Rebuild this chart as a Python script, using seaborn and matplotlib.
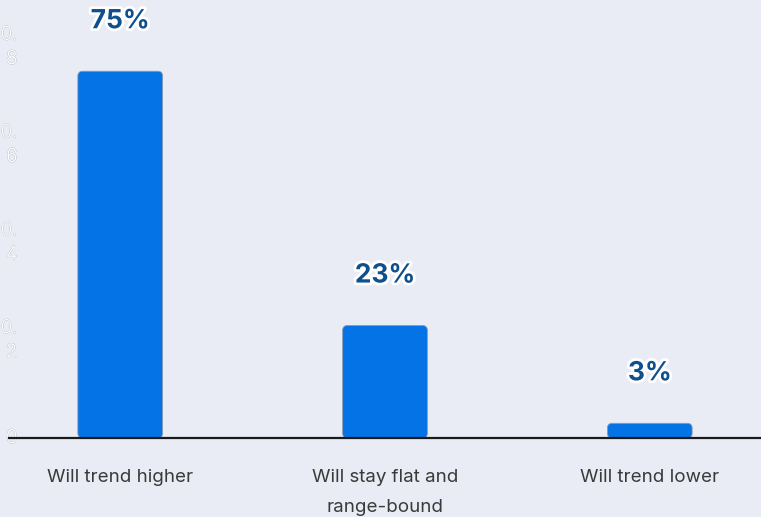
import matplotlib
matplotlib.use("Agg")
import matplotlib.pyplot as plt
import matplotlib.patheffects as pe
from matplotlib.patches import FancyBboxPatch
import seaborn as sns
import pandas as pd

categories = ["Will trend higher", "Will stay flat and\nrange-bound", "Will trend lower"]
shares = [0.75, 0.23, 0.03]
value_labels = ["75%", "23%", "3%"]
y_ticks = [0, 0.2, 0.4, 0.6, 0.8]
y_tick_labels = ["0", "0.\n2", "0.\n4", "0.\n6", "0.\n8"]

bg = "#e9ecf4"
bar_blue = "#0473e6"
label_navy = "#0e4f8c"

sns.set_theme(style="white")
plt.rcParams["font.family"] = ["Inter", "DejaVu Sans"]

df = pd.DataFrame({"category": categories, "share": shares})

fig = plt.figure(figsize=(7.61, 5.17), dpi=100, facecolor=bg)
ax = fig.add_axes([9 / 761, 79 / 517, 752 / 761, 438 / 517])
ax.set_facecolor(bg)

sns.barplot(data=df, x="category", y="share", color=bar_blue, width=0.32,
            saturation=1, ax=ax)

ax.set_xlim(-0.42, 2.42)
ax.set_ylim(0, 438 / 489)

# swap plain bars for slightly rounded ones
for p in list(ax.patches):
    x0, y0 = p.get_x(), p.get_y()
    w, h = p.get_width(), p.get_height()
    rb = FancyBboxPatch((x0, y0), w, h,
                        boxstyle="round,pad=0,rounding_size=0.018",
                        mutation_aspect=0.54, facecolor=bar_blue,
                        edgecolor="#8a9ab0", linewidth=0.6, zorder=2)
    p.remove()
    ax.add_patch(rb)

for i, (v, lab) in enumerate(zip(shares, value_labels)):
    ax.annotate(lab, (i, v), xytext=(0, 36), textcoords="offset points",
                ha="center", va="center", fontsize=19, fontweight="bold",
                color=label_navy,
                path_effects=[pe.withStroke(linewidth=4, foreground="white")])

ax.set_yticks(y_ticks)
ax.set_yticklabels(y_tick_labels, fontsize=13.5, color="white", fontweight="light",
                   multialignment="right", linespacing=1.45, va="center")
for t in ax.get_yticklabels():
    t.set_path_effects([pe.withStroke(linewidth=0.9, foreground="#c2c6ce"), pe.Normal()])
ax.tick_params(axis="y", length=0, pad=-6)
ax.set_xticks(range(len(categories)))
ax.set_xticklabels(categories, fontsize=13.5, color="#3a3a3a", linespacing=2.05)
ax.tick_params(axis="x", length=0, pad=22)

ax.set_xlabel("")
ax.set_ylabel("")
for s in ["top", "right", "left"]:
    ax.spines[s].set_visible(False)
ax.spines["bottom"].set_color("#1a1a1a")
ax.spines["bottom"].set_linewidth(1.6)
ax.spines["bottom"].set_zorder(3)

fig.savefig("out.png", dpi=100, facecolor=bg)
